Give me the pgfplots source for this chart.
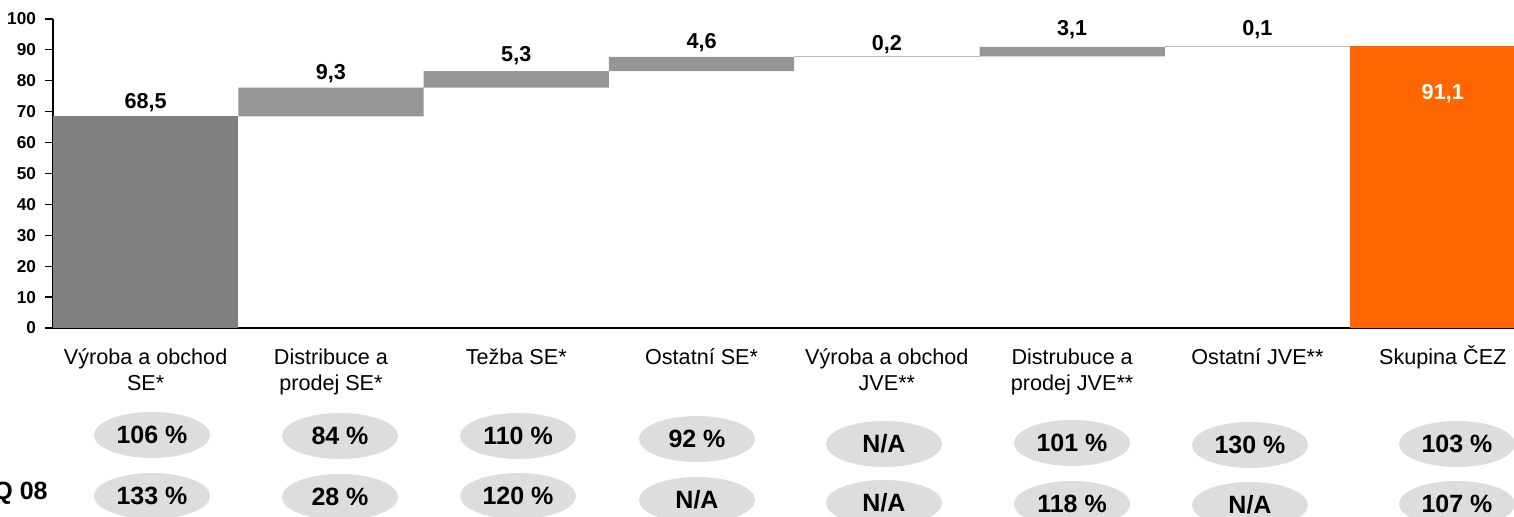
\documentclass[border=0pt]{standalone}
\usepackage{pgfplots}
\pgfplotsset{compat=1.18}
\usepackage{fontspec}
\setmainfont{Liberation Sans}
\usetikzlibrary{shapes.geometric}
\definecolor{darkbar}{HTML}{808080}
\definecolor{lightbar}{HTML}{969696}
\definecolor{orangebar}{HTML}{FF6600}
\definecolor{ellfill}{HTML}{DDDDDD}
\tikzset{vl/.style={font=\fontsize{10.8}{13}\bfseries\selectfont},
  pe/.style={ellipse, fill=ellfill, minimum width=58pt, minimum height=23pt, inner sep=0pt, font=\fontsize{12.5}{14}\bfseries\selectfont}}
\begin{document}
\begin{tikzpicture}
\begin{axis}[
  at={(26.5pt,-164pt)}, anchor=south west,
  scale only axis, width=741.2pt, height=154.5pt,
  xmin=-0.5, xmax=7.5, ymin=0, ymax=100,
  ybar stacked, bar width=1,
  axis x line=bottom, axis y line=left,
  axis line style={-, black, line width=0.6pt},
  ytick={0,10,...,100},
  xtick={0,...,7},
  xticklabels={{Výroba a obchod\\SE*},{Distribuce a\\prodej SE*},{Težba SE*},{Ostatní SE*},{Výroba a obchod\\JVE**},{Distrubuce a\\prodej JVE**},{Ostatní JVE**},{Skupina \smash{Č}EZ}},
  xticklabel style={align=center, font=\fontsize{10.8}{13}\selectfont, anchor=north, yshift=-3pt},
  major x tick style={draw=none},
  major y tick style={black, line width=0.6pt},
  tick align=outside,
  major tick length=4pt,
  y tick label style={font=\fontsize{8.6}{10}\bfseries\selectfont, xshift=-1pt},
  /pgf/number format/assume math mode=true,
  clip=false,
]
\addplot[draw=none, fill=white, fill opacity=0] coordinates {(0,0) (1,68.5) (2,77.8) (3,83.1) (4,87.7) (5,87.9) (6,91.0) (7,0)};
\addplot[draw=none, fill=darkbar] coordinates {(0,68.5) (1,0) (2,0) (3,0) (4,0) (5,0) (6,0) (7,0)};
\addplot[draw=none, fill=lightbar] coordinates {(0,0) (1,9.3) (2,5.3) (3,4.6) (4,0.2) (5,3.1) (6,0.1) (7,0)};
\addplot[draw=none, fill=orangebar] coordinates {(0,0) (1,0) (2,0) (3,0) (4,0) (5,0) (6,0) (7,91.1)};
\node[vl] at (axis cs:0,72.8) {68,5};
\node[vl] at (axis cs:1,82.4) {9,3};
\node[vl] at (axis cs:2,88.2) {5,3};
\node[vl] at (axis cs:3,92.3) {4,6};
\node[vl] at (axis cs:4,91.8) {0,2};
\node[vl] at (axis cs:5,96.4) {3,1};
\node[vl] at (axis cs:6,96.4) {0,1};
\coordinate (lab) at (axis cs:7,76);
\end{axis}
\node[vl, text=white] at (lab) {91,1};
\begin{scope}[x=0.5pt, y=-0.5pt]
\node[pe] at (152,435) {106 \%};
\node[pe] at (340,436) {84 \%};
\node[pe] at (518,436) {110 \%};
\node[pe] at (697,439) {92 \%};
\node[pe] at (884,444) {N/A};
\node[pe] at (1072,443) {101 \%};
\node[pe] at (1250,445) {130 \%};
\node[pe] at (1457,444) {103 \%};
\node[pe] at (152,496) {133 \%};
\node[pe] at (340,497) {28 \%};
\node[pe] at (518,496) {120 \%};
\node[pe] at (697,500) {N/A};
\node[pe] at (884,503) {N/A};
\node[pe] at (1072,504) {118 \%};
\node[pe] at (1250,505) {N/A};
\node[pe] at (1457,504) {107 \%};
\node[anchor=east, inner sep=0pt, font=\fontsize{12.5}{14}\bfseries\selectfont] at (48,493) {Q 08};
\end{scope}
\pgfresetboundingbox
\path[use as bounding box] (0,0) rectangle (757pt,-258.5pt);
\end{tikzpicture}
\end{document}
